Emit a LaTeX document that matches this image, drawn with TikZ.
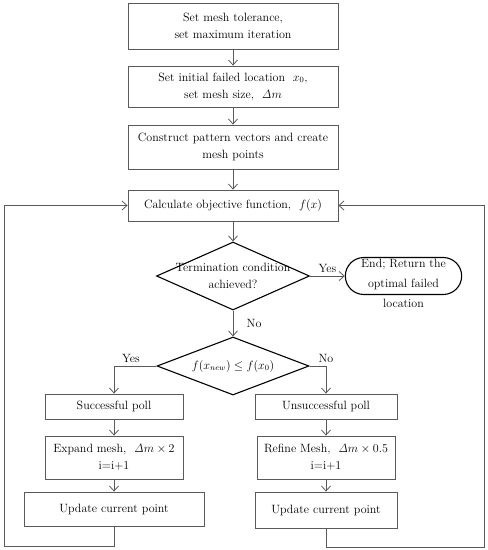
\documentclass[tikz,border=0pt]{standalone}
\usepackage{amsmath,amssymb}
\usetikzlibrary{arrows.meta, positioning, shapes.geometric, shapes.misc}
\definecolor{linegray}{HTML}{5A5A5A}
\newcommand{\dm}{\ensuremath{\mathit{\Delta} m}}
\newcommand{\zw}[1]{\makebox[0pt]{\raisebox{-3pt}{#1}}}

\begin{document}
\begin{tikzpicture}[x=1pt, y=-1pt, on grid,
        >={Straight Barb[length=5pt,width=9pt]},
        every node/.style={font=\fontsize{12}{17}\selectfont},
        process/.style={rectangle, draw=linegray, line width=0.8pt, align=center, inner sep=0pt, minimum width=210pt},
        decision/.style={diamond, draw, line width=1.1pt, align=center, inner sep=0pt},
        terminal/.style={rounded rectangle, draw, line width=1.1pt, minimum width=123pt, minimum height=37pt},
        flow/.style={->, draw=linegray, line width=0.8pt}]
        \useasboundingbox (0,0) rectangle (488,550);

        \node[process, minimum height=46pt]     (tol)     at (233,26)                  {Set mesh tolerance,\\ set maximum iteration};
        \node[process, minimum height=41pt]     (init)    [below=60.5pt of tol]        {Set initial failed location~ $x_0$,\\ set mesh size,~ $\dm$};
        \node[process, minimum height=44pt]     (pattern) [below=60.5pt of init]       {Construct pattern vectors and create\\ mesh points};
        \node[process, minimum height=31pt]     (obj)     [below=58.5pt of pattern]    {Calculate objective function,~ $f(x)$};
        \node[decision, aspect=2.25, minimum width=153pt, minimum height=68pt] (term) [below=70.5pt of obj] {\zw{Termination condition}\\ \zw{achieved?}};
        \node[terminal]                         (end)     [right=170.5pt of term]      {};
        \node[align=center, font=\fontsize{12}{20}\selectfont] (endtext) [below=7pt of end] {End; Return the\\ optimal failed\\ location};
        \node[decision, aspect=2.6, minimum width=152pt, minimum height=58pt] (cond) [below=90pt of term] {$f(x_{new}) \leq f(x_0)$};
        \node[process, minimum width=138pt, minimum height=25pt] (succ)   [below left=40.5pt and 119pt of cond]  {Successful poll};
        \node[process, minimum width=142pt, minimum height=25pt] (unsucc) [below right=40.5pt and 93pt of cond] {Unsuccessful poll};
        \node[process, minimum width=138pt, minimum height=43pt] (expand) [below=51pt of succ]     {Expand mesh,~ $\dm \times 2$\\ i=i+1};
        \node[process, minimum width=138pt, minimum height=43pt] (refine) [below=51pt of unsucc]   {Refine Mesh,~ $\dm \times 0.5$\\ i=i+1};
        \node[process, minimum width=180pt, minimum height=34pt] (upd1)   [below=51.5pt of expand] {Update current point};
        \node[process, minimum width=142pt, minimum height=36pt] (upd2)   [below=52.5pt of refine] {Update current point};
        \coordinate (loopL) at (4,546);
        \coordinate (loopR) at (484,547);

        \draw[flow] (tol) -- (init);
        \draw[flow] (init) -- (pattern);
        \draw[flow] (pattern) -- (obj);
        \draw[flow] (obj) -- (term);
        \draw[flow] (term) -- node[above] {Yes} (end);
        \draw[flow] (term) -- node[right=10pt] {No} (cond);
        \draw[flow] (cond) -| node[pos=0.3, above] {Yes} (succ);
        \draw[flow] (cond) -| node[pos=0.5, above] {No} (unsucc);
        \draw[flow] (succ) -- (expand);
        \draw[flow] (unsucc) -- (refine);
        \draw[flow] (expand) -- (upd1);
        \draw[flow] (refine) -- (upd2);
        % loops back to the objective function
        \draw[flow] (upd1) |- (loopL) |- (obj);
        \draw[flow] (upd2) |- (loopR) |- (obj);
\end{tikzpicture}
\end{document}
